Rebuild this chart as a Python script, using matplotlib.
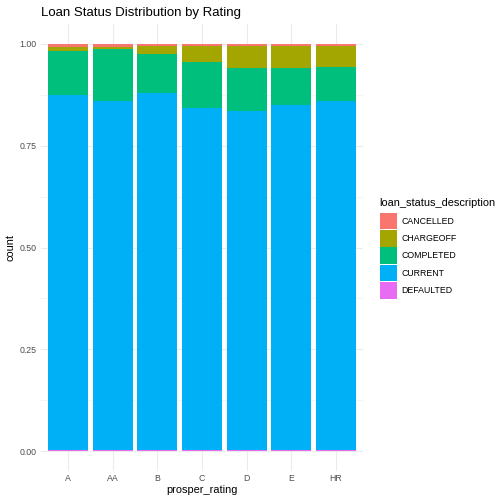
import numpy as np
import matplotlib
matplotlib.use("Agg")
import matplotlib.pyplot as plt
from matplotlib.patches import Rectangle

plt.rcParams["font.family"] = ["Liberation Sans", "DejaVu Sans"]

# share of loans (%) per rating
ratings = ["A", "AA", "B", "C", "D", "E", "HR"]
statuses = ["CANCELLED", "CHARGEOFF", "COMPLETED", "CURRENT", "DEFAULTED"]
cancelled = [0.74, 0.74, 0.50, 0.45, 0.45, 0.45, 0.45]
chargeoff = [0.96, 0.46, 2.00, 3.95, 5.45, 5.45, 5.25]
completed = [10.8, 12.8, 9.54, 11.24, 10.56, 9.10, 8.30]
current = [87.2, 85.7, 87.66, 84.06, 83.24, 84.7, 85.7]
defaulted = [0.3, 0.3, 0.3, 0.3, 0.3, 0.3, 0.3]

colors = ["#F8766D", "#A3A500", "#00BF7D", "#00B0F6", "#E76BF3"]

series = [cancelled, chargeoff, completed, current, defaulted]
vals = np.array(series, dtype=float)
vals = vals / vals.sum(axis=0)  # position = "fill"

fig = plt.figure(figsize=(7, 7), dpi=72)
W = H = 504.0
ax = fig.add_axes([41.2 / W, 1 - 471.4 / H, 321.6 / W, 447.8 / H])

x = np.arange(len(ratings))
bottom = np.zeros(len(ratings))
# ggplot stacks the last level at the bottom
for i in range(len(statuses) - 1, -1, -1):
    ax.bar(x, vals[i], bottom=bottom, width=0.9, color=colors[i],
           linewidth=0, zorder=2)
    bottom += vals[i]

ax.set_xlim(-0.6, len(ratings) - 0.4)
ax.set_ylim(-0.05, 1.05)
ax.set_xticks(x)
ax.set_xticklabels(ratings)
ax.set_yticks([0, 0.25, 0.5, 0.75, 1.0])
ax.set_yticklabels(["0.00", "0.25", "0.50", "0.75", "1.00"])
ax.set_yticks([0.125, 0.375, 0.625, 0.875], minor=True)

for s in ax.spines.values():
    s.set_visible(False)
ax.tick_params(which="both", length=0, colors="#4D4D4D", labelsize=8.8)
ax.tick_params(axis="x", pad=3)
ax.tick_params(axis="y", pad=5)
ax.grid(True, which="major", color="#EBEBEB", linewidth=1.07, zorder=0)
ax.grid(True, which="minor", axis="y", color="#EBEBEB", linewidth=0.53, zorder=0)
ax.set_axisbelow(True)

ax.set_xlabel("prosper_rating", fontsize=11, color="black", labelpad=2)
ax.set_ylabel("count", fontsize=11, color="black", labelpad=4)
ax.set_title("Loan Status Distribution by Rating", fontsize=13.2, loc="left",
             color="black", pad=8)

# legend drawn by hand, ggplot style (keys stacked with no gap)
fig.text(379 / W, 1 - 202.5 / H, "loan_status_description", fontsize=11,
         ha="left", va="center", color="black")
key_top, key_h, key_w = 212.7, 17.3, 16.5
for i, (lab, c) in enumerate(zip(statuses, colors)):
    top = key_top + i * key_h
    fig.patches.append(Rectangle((380 / W, 1 - (top + key_h - 0.6) / H),
                                 key_w / W, (key_h - 0.6) / H,
                                 transform=fig.transFigure, facecolor=c,
                                 edgecolor="none"))
    fig.text(401.7 / W, 1 - (top + key_h / 2) / H, lab, fontsize=8.8,
             ha="left", va="center", color="black")

fig.savefig("out.png", dpi=72, facecolor="white")
plt.close(fig)
